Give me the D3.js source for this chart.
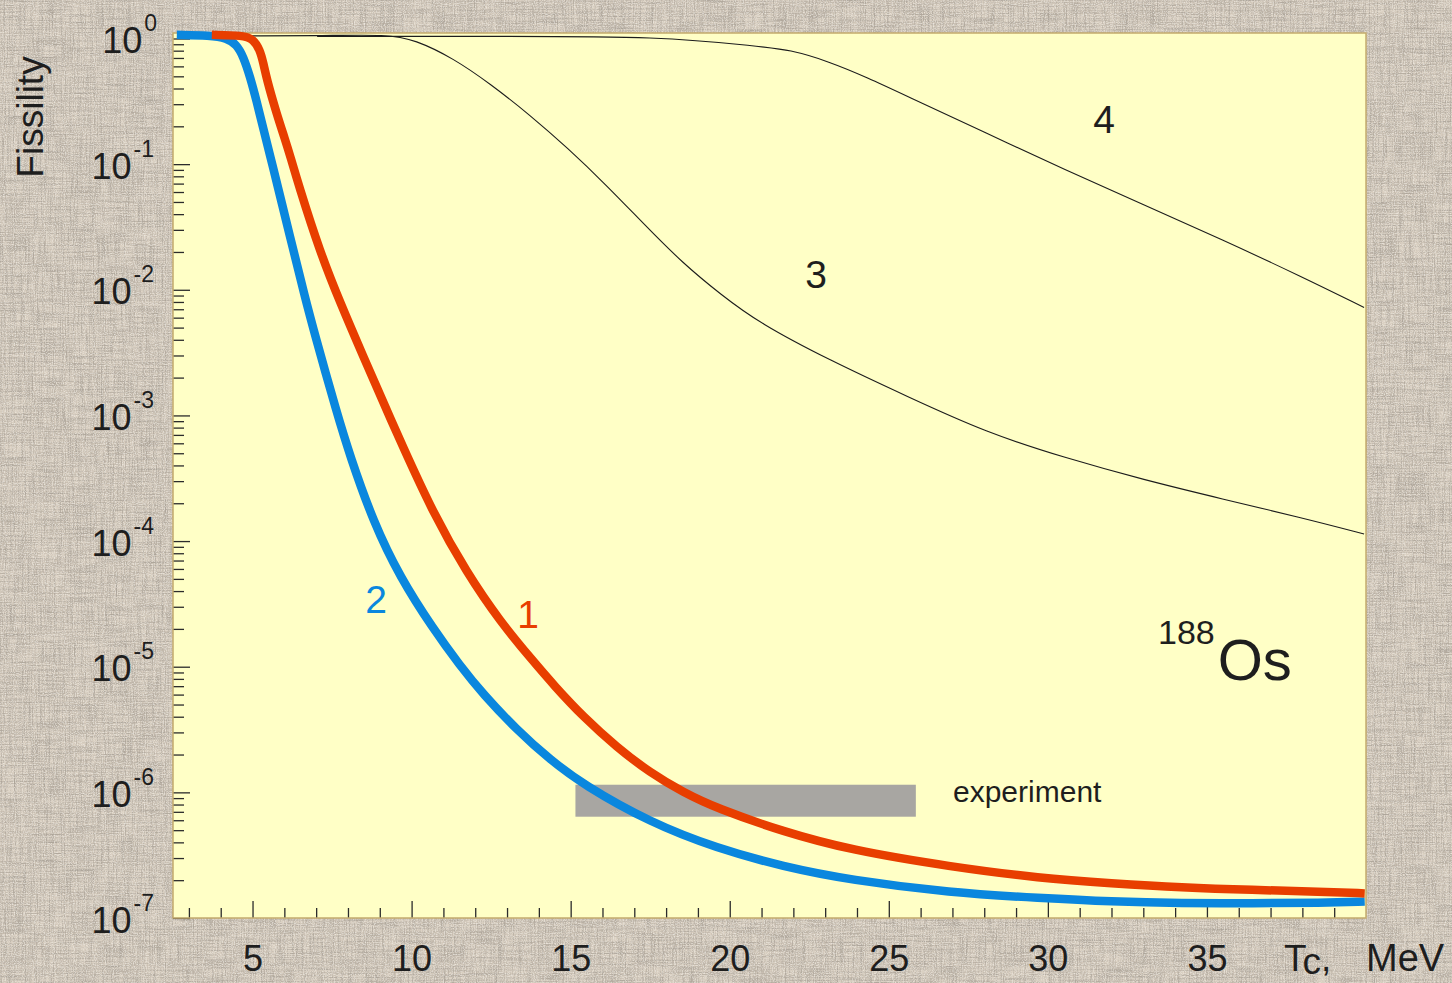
<!DOCTYPE html>
<html>
<head>
<meta charset="utf-8">
<script src="https://cdn.jsdelivr.net/npm/d3@7/dist/d3.min.js"></script>
<style>
  html, body { margin: 0; padding: 0; background: #d6ccbe; }
  svg { display: block; font-family: "Liberation Sans", Arial, Helvetica, sans-serif; }
</style>
</head>
<body>
<svg id="chart" width="1452" height="983"></svg>
<script>
// Fissility of 188Os as a function of the temperature Tc (MeV)

// x axis ticks (MeV)
const xMajorTicks = [5, 10, 15, 20, 25, 30, 35];
const xMinorTicks = d3.range(3, 40).filter(v => v % 5 !== 0);

// y axis decades (exponents of 10)
const yDecades = [-7, -6, -5, -4, -3, -2, -1, 0];

// curve 1 (red)
const curve1T = [3.72, 4.71, 5.02, 5.23, 5.34, 5.45, 5.76, 6.02, 6.18, 6.44, 7.12, 7.75, 8.48, 9.22,
                 9.64, 10.68, 11.73, 12.78, 13.83, 14.48, 15.40, 16.45, 17.50, 18.54, 19.59, 21.69,
                 23.78, 26.93, 29.78, 32.0, 34.21, 36.42, 38.63, 39.96];
const curve1F = [1.07, 1.06, 0.99, 0.815, 0.638, 0.470, 0.251, 0.158, 0.117, 0.0692, 0.0200, 0.00794,
                 0.00295, 0.00110, 6.31e-4, 1.66e-4, 5.62e-5, 2.29e-5, 1.10e-5, 7.08e-6, 3.98e-6,
                 2.29e-6, 1.43e-6, 1.0e-6, 7.46e-7, 4.86e-7, 3.48e-7, 2.56e-7, 2.07e-7, 1.89e-7,
                 1.75e-7, 1.67e-7, 1.62e-7, 1.57e-7];

// curve 2 (blue)
const curve2T = [2.62, 3.66, 4.19, 4.50, 4.71, 4.92, 5.13, 5.34, 5.65, 5.92, 6.18, 6.39, 6.59, 6.96,
                 7.65, 8.06, 8.80, 9.64, 10.68, 11.52, 12.25, 13.30, 14.35, 15.40, 17.50, 19.59,
                 21.69, 23.78, 26.93, 29.78, 32.0, 34.21, 36.42, 38.63, 39.96];
const curve2F = [1.07, 1.06, 1.01, 0.894, 0.719, 0.499, 0.316, 0.191, 0.0933, 0.049, 0.0263, 0.0162,
                 0.0100, 0.00437, 0.00105, 4.79e-4, 1.41e-4, 5.13e-5, 2.0e-5, 1.02e-5, 6.03e-6,
                 3.16e-6, 1.82e-6, 1.15e-6, 5.75e-7, 3.59e-7, 2.56e-7, 2.01e-7, 1.59e-7, 1.44e-7,
                 1.35e-7, 1.31e-7, 1.31e-7, 1.32e-7, 1.35e-7];

// curve 3 (thin)
const curve3T = [4.89, 7.12, 9.26, 10.10, 11.30, 12.51, 13.71, 14.91, 16.11, 17.32, 18.52, 19.73,
                 20.93, 23.11, 25.59, 28.06, 30.54, 33.02, 35.49, 37.96, 39.94];
const curve3F = [1.05, 1.05, 1.08, 0.977, 0.700, 0.429, 0.247, 0.134, 0.0686, 0.033, 0.0163, 0.00912,
                 0.00543, 0.00277, 0.00141, 7.31e-4, 4.59e-4, 3.07e-4, 2.16e-4, 1.54e-4, 1.14e-4];

// curve 4 (thin)
const curve4T = [7.03, 12.78, 17.80, 20.92, 21.88, 23.11, 24.35, 25.59, 28.06, 30.54, 33.01, 35.49,
                 37.96, 39.94];
const curve4F = [1.04, 1.04, 1.04, 0.865, 0.815, 0.658, 0.486, 0.346, 0.177, 0.0901, 0.0475, 0.025,
                 0.01277, 0.00723];

// experimental band
const experimentT = [15.15, 25.85];
const experimentF = [6.4e-7, 1.15e-6];

// ---------------------------------------------------------------
const svg = d3.select("#chart");
const W = 1452, H = 983;
const plot = { left: 173, right: 1366, top: 33, bottom: 918 };

const x = d3.scaleLinear().domain([2.5, 40]).range([plot.left, plot.right]);
const y = d3.scaleLog().domain([1e-7, 1.106]).range([plot.bottom, plot.top]);

// linen-like page background
const defs = svg.append("defs");
const linen = defs.append("filter").attr("id", "linen")
  .attr("x", 0).attr("y", 0).attr("width", W).attr("height", H)
  .attr("filterUnits", "userSpaceOnUse");
linen.append("feTurbulence").attr("type", "fractalNoise").attr("baseFrequency", "0.75 0.03")
  .attr("numOctaves", 2).attr("seed", 4).attr("result", "v");
linen.append("feColorMatrix").attr("in", "v").attr("type", "matrix")
  .attr("values", "0 0 0 0 0.38  0 0 0 0 0.34  0 0 0 0 0.29  1.9 0 0 0 -0.72").attr("result", "vd");
linen.append("feTurbulence").attr("type", "fractalNoise").attr("baseFrequency", "0.03 0.75")
  .attr("numOctaves", 2).attr("seed", 11).attr("result", "h");
linen.append("feColorMatrix").attr("in", "h").attr("type", "matrix")
  .attr("values", "0 0 0 0 0.38  0 0 0 0 0.34  0 0 0 0 0.29  1.9 0 0 0 -0.72").attr("result", "hd");
linen.append("feTurbulence").attr("type", "fractalNoise").attr("baseFrequency", "0.9 0.9")
  .attr("numOctaves", 1).attr("seed", 23).attr("result", "s");
linen.append("feColorMatrix").attr("in", "s").attr("type", "matrix")
  .attr("values", "0 0 0 0 0.95  0 0 0 0 0.93  0 0 0 0 0.88  1.8 0 0 0 -0.82").attr("result", "sl");
const merge = linen.append("feMerge");
merge.append("feMergeNode").attr("in", "vd");
merge.append("feMergeNode").attr("in", "hd");
merge.append("feMergeNode").attr("in", "sl");

svg.append("rect").attr("width", W).attr("height", H).attr("fill", "#dad0c2");
svg.append("rect").attr("width", W).attr("height", H).attr("fill", "#000")
  .attr("filter", "url(#linen)").attr("opacity", 0.9);

// plot area
svg.append("rect")
  .attr("x", plot.left).attr("y", plot.top)
  .attr("width", plot.right - plot.left).attr("height", plot.bottom - plot.top)
  .attr("fill", "#ffffc6");

// experimental band
svg.append("rect")
  .attr("x", x(experimentT[0])).attr("y", y(experimentF[1]))
  .attr("width", x(experimentT[1]) - x(experimentT[0]))
  .attr("height", y(experimentF[0]) - y(experimentF[1]))
  .attr("fill", "#a8a6a2");

// axes: ticks point into the plot
const tickColor = "#2b2b2b";
const yMajor = yDecades.map(e => Math.pow(10, e));
const yMinor = [];
yDecades.slice(0, -1).forEach(e => { for (let k = 2; k <= 9; k++) yMinor.push(k * Math.pow(10, e)); });

const gyMinor = svg.append("g").attr("transform", `translate(${plot.left},0)`)
  .call(d3.axisLeft(y).tickValues(yMinor).tickSize(-11).tickFormat(""));
const gyMajor = svg.append("g").attr("transform", `translate(${plot.left},0)`)
  .call(d3.axisLeft(y).tickValues(yMajor).tickSize(-17).tickPadding(16).tickFormat(""));

const gxMinor = svg.append("g").attr("transform", `translate(0,${plot.bottom})`)
  .call(d3.axisBottom(x).tickValues(xMinorTicks).tickSize(-10).tickFormat(""));
const gxMajor = svg.append("g").attr("transform", `translate(0,${plot.bottom})`)
  .call(d3.axisBottom(x).tickValues(xMajorTicks).tickSize(-17).tickPadding(27).tickFormat(d3.format("d")));

[gyMinor, gyMajor, gxMinor, gxMajor].forEach(g => {
  g.select(".domain").remove();
  g.selectAll(".tick line").attr("stroke", tickColor).attr("stroke-width", 1.3);
});

gxMajor.selectAll(".tick text")
  .attr("font-size", 36).attr("fill", "#1e1e1e").attr("font-family", "Liberation Sans, Arial, sans-serif");

// y tick labels as 10^n
gyMajor.selectAll(".tick").each(function(d) {
  const e = Math.round(Math.log10(d));
  const t = d3.select(this).select("text")
    .attr("x", e === 0 ? -16 : -19).attr("dy", null).attr("y", 14)
    .attr("text-anchor", "end").attr("fill", "#1e1e1e")
    .attr("font-family", "Liberation Sans, Arial, sans-serif").text(null);
  t.append("tspan").attr("font-size", 36).text("10");
  t.append("tspan").attr("font-size", 23).attr("dy", -22).attr("dx", 2).text(String(e));
});

// plot frame
svg.append("rect")
  .attr("x", plot.left).attr("y", plot.top)
  .attr("width", plot.right - plot.left).attr("height", plot.bottom - plot.top)
  .attr("fill", "none").attr("stroke", "#c3ab6c").attr("stroke-width", 1.5);

// curves
const line = d3.line().x(d => x(d[0])).y(d => y(d[1])).curve(d3.curveBasis);
const zip = (a, b) => a.map((v, i) => [v, b[i]]);

svg.append("path").datum(zip(curve3T, curve3F)).attr("d", line)
  .attr("fill", "none").attr("stroke", "#1c1c1c").attr("stroke-width", 1.1);
svg.append("path").datum(zip(curve4T, curve4F)).attr("d", line)
  .attr("fill", "none").attr("stroke", "#1c1c1c").attr("stroke-width", 1.1);
svg.append("path").datum(zip(curve2T, curve2F)).attr("d", line)
  .attr("fill", "none").attr("stroke", "#0a87de").attr("stroke-width", 8.5)
  .attr("stroke-linejoin", "round");
svg.append("path").datum(zip(curve1T, curve1F)).attr("d", line)
  .attr("fill", "none").attr("stroke", "#e83e00").attr("stroke-width", 8.5)
  .attr("stroke-linejoin", "round");

// curve labels
const labels = [
  { text: "1", px: 528, py: 628, color: "#e83e00" },
  { text: "2", px: 376, py: 613, color: "#0a87de" },
  { text: "3", px: 816, py: 288, color: "#1e1e1e" },
  { text: "4", px: 1104, py: 133, color: "#1e1e1e" }
];
svg.append("g").selectAll("text").data(labels).join("text")
  .attr("x", d => d.px).attr("y", d => d.py)
  .attr("text-anchor", "middle").attr("font-size", 39)
  .attr("fill", d => d.color).text(d => d.text);

svg.append("text").attr("x", 953).attr("y", 802)
  .attr("font-size", 30).attr("fill", "#1e1e1e").text("experiment");

const nuc = svg.append("text").attr("x", 1158).attr("y", 680).attr("fill", "#1e1e1e");
nuc.append("tspan").attr("font-size", 34).attr("dy", -36).text("188");
nuc.append("tspan").attr("font-size", 58).attr("dy", 36).attr("dx", 3).text("Os");

// axis titles
svg.append("text")
  .attr("transform", "translate(43,117) rotate(-90)")
  .attr("text-anchor", "middle").attr("font-size", 37).attr("fill", "#1e1e1e")
  .text("Fissility");

const xt = svg.append("text").attr("x", 1284).attr("y", 971)
  .attr("font-size", 37).attr("fill", "#1e1e1e");
xt.append("tspan").text("T");
xt.append("tspan").attr("dy", 3).text("c");
xt.append("tspan").attr("dy", -3).text(",");

svg.append("text").attr("x", 1366).attr("y", 971)
  .attr("font-size", 38).attr("fill", "#1e1e1e").text("MeV");
</script>
</body>
</html>
